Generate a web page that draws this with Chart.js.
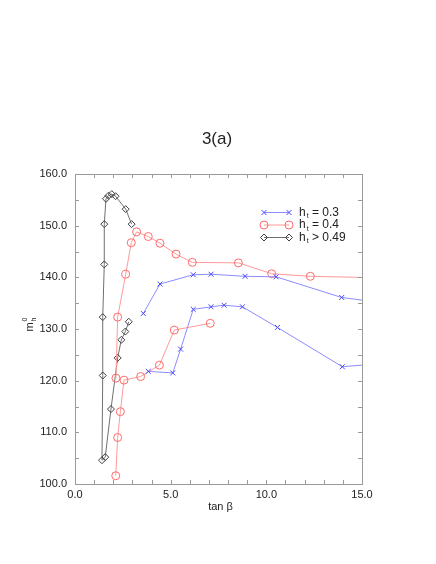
<!DOCTYPE html>
<html>
<head>
<meta charset="utf-8">
<script src="https://cdn.jsdelivr.net/npm/chart.js@4"></script>
<style>
  html, body { margin: 0; padding: 0; background: #fff; }
  #wrap { width: 436px; height: 564px; position: relative; }
</style>
</head>
<body>
<div id="wrap"><canvas id="fig" width="436" height="564"></canvas></div>
<script>
// ---- data ----
const blueUpX  = [3.57, 4.44, 6.18, 7.11, 8.89, 10.51, 13.94, 16.0];
const blueUpY  = [133.0, 138.7, 140.5, 140.6, 140.2, 140.1, 136.1, 135.1];
const blueLowX = [3.83, 5.11, 5.52, 6.18, 7.11, 7.79, 8.75, 10.58, 13.97, 16.0];
const blueLowY = [121.8, 121.5, 126.1, 133.8, 134.3, 134.6, 134.3, 130.3, 122.7, 123.3];

const redUpX  = [2.14, 2.23, 2.65, 2.94, 3.22, 3.83, 4.44, 5.28, 6.13, 8.54, 10.28, 12.3, 16.0];
const redUpY  = [120.5, 132.3, 140.6, 146.7, 148.8, 147.9, 146.6, 144.5, 142.9, 142.8, 140.7, 140.2, 139.9];
const redLowX = [2.13, 2.23, 2.37, 2.56, 3.43, 4.41, 5.19, 7.07];
const redLowY = [101.6, 109.0, 114.0, 120.1, 120.8, 123.0, 129.8, 131.1];

const blackX = [2.81, 2.63, 2.42, 2.23, 1.88, 1.58, 1.41, 1.45, 1.45, 1.53, 1.53, 1.62, 1.75, 1.92, 2.12, 2.65, 2.96];
const blackY = [131.4, 129.5, 127.9, 124.4, 114.5, 105.2, 104.6, 121.0, 132.3, 142.5, 150.3, 155.2, 155.8, 156.1, 155.7, 153.2, 150.3];

const xTicks = [0, 5, 10, 15];
const yTicks = [100, 110, 120, 130, 140, 150, 160];
const legendLabels = [['h', 't', ' = 0.3'], ['h', 't', ' = 0.4'], ['h', 't', ' > 0.49']];

const BLUE = '#4848ff', BLUE_LINE = '#8c8cff';
const RED = '#ff6a6a', RED_LINE = '#ff9a9a';
const BLACK = '#404040', BLACK_LINE = '#707070';
const AXIS = '#9a9a9a';
const FONT = '"Liberation Sans", Arial, sans-serif';

function pts(xs, ys) { return xs.map((x, i) => ({ x: x, y: ys[i] })); }

function series(xs, ys, style, color, line, radius) {
    return {
        data: pts(xs, ys),
        showLine: true,
        borderColor: line,
        borderWidth: 1,
        pointStyle: style,
        pointRadius: radius,
        pointBorderColor: color,
        pointBackgroundColor: 'rgba(0,0,0,0)',
        pointBorderWidth: 1,
        clip: 0,
        tension: 0
    };
}

const datasets = [
    series(blueUpX, blueUpY, 'crossRot', BLUE, BLUE_LINE, 3.5),
    series(blueLowX, blueLowY, 'crossRot', BLUE, BLUE_LINE, 3.5),
    series(redUpX, redUpY, 'circle', RED, RED_LINE, 4),
    series(redLowX, redLowY, 'circle', RED, RED_LINE, 4),
    series(blackX, blackY, 'rectRot', BLACK, BLACK_LINE, 3.5)
];

// ticks, frame, title, axis labels, legend
const decor = {
    id: 'decor',
    afterDraw(chart) {
        const ctx = chart.ctx;
        const a = chart.chartArea;
        const xs = chart.scales.x, ys = chart.scales.y;
        ctx.save();
        ctx.strokeStyle = AXIS;
        ctx.lineWidth = 1;
        ctx.strokeRect(a.left + 0.5, a.top + 0.5, a.right - a.left, a.bottom - a.top);

        ctx.beginPath();
        for (let v = 0; v <= 15; v++) {
            const px = Math.round(xs.getPixelForValue(v)) + 0.5;
            ctx.moveTo(px, a.bottom); ctx.lineTo(px, a.bottom - 4);
            ctx.moveTo(px, a.top); ctx.lineTo(px, a.top + 4);
        }
        for (let v = 100; v <= 160; v += 5) {
            const py = Math.round(ys.getPixelForValue(v)) + 0.5;
            ctx.moveTo(a.left, py); ctx.lineTo(a.left + 4, py);
            ctx.moveTo(a.right, py); ctx.lineTo(a.right - 4, py);
        }
        ctx.stroke();

        ctx.fillStyle = '#222';
        ctx.textAlign = 'center';
        ctx.textBaseline = 'middle';
        ctx.font = '17px ' + FONT;
        ctx.fillText('3(a)', 217, 139);

        ctx.font = '11px ' + FONT;
        ctx.fillText('tan \u03b2', (a.left + a.right) / 2 + 2, 507);

        // y label: m with sub h and sup 0, rotated
        ctx.save();
        ctx.translate(30, (a.top + a.bottom) / 2 - 4);
        ctx.rotate(-Math.PI / 2);
        ctx.textAlign = 'left';
        ctx.font = '11px ' + FONT;
        const mw = ctx.measureText('m').width;
        ctx.fillText('m', -mw / 2 - 2, 0);
        ctx.font = '7px ' + FONT;
        ctx.fillText('h', mw / 2 - 1, 4);
        ctx.fillText('0', mw / 2 - 1, -5);
        ctx.restore();

        // legend
        [0, 2, 4].forEach((di, i) => {
            const ds = chart.data.datasets[di];
            const y = 212.5 + i * 12.5;
            const x0 = 264, x1 = 289;
            ctx.strokeStyle = ds.borderColor;
            ctx.lineWidth = 1;
            ctx.beginPath();
            ctx.moveTo(x0, y); ctx.lineTo(x1, y);
            ctx.stroke();
            ctx.strokeStyle = ds.pointBorderColor;
            ctx.fillStyle = 'rgba(0,0,0,0)';
            [x0, x1].forEach(x => {
                Chart.helpers.drawPoint(ctx, {
                    pointStyle: ds.pointStyle,
                    radius: ds.pointRadius,
                    borderWidth: 1,
                    rotation: 0
                }, x, y);
            });
            const lab = legendLabels[i];
            ctx.fillStyle = '#222';
            ctx.textAlign = 'left';
            ctx.textBaseline = 'middle';
            ctx.font = '12px ' + FONT;
            let tx = 299;
            ctx.fillText(lab[0], tx, y);
            tx += ctx.measureText(lab[0]).width;
            ctx.font = '7px ' + FONT;
            ctx.fillText(lab[1], tx + 1, y + 4);
            tx += ctx.measureText(lab[1]).width + 1;
            ctx.font = '12px ' + FONT;
            ctx.fillText(lab[2], tx, y);
        });
        ctx.restore();
    }
};

new Chart(document.getElementById('fig'), {
    type: 'scatter',
    data: { datasets: datasets },
    options: {
        responsive: false,
        animation: false,
        devicePixelRatio: 1,
        layout: { padding: { top: 174, right: 74, left: 0, bottom: 0 } },
        plugins: { legend: { display: false }, title: { display: false }, tooltip: { enabled: false } },
        scales: {
            x: {
                type: 'linear', min: 0, max: 15,
                afterFit(s) { s.height = 80; },
                afterBuildTicks(s) { s.ticks = xTicks.map(v => ({ value: v })); },
                grid: { display: false, drawTicks: false },
                border: { display: false },
                ticks: {
                    padding: 4, color: '#222', font: { family: FONT, size: 11 },
                    maxRotation: 0, autoSkip: false,
                    callback: v => v.toFixed(1)
                }
            },
            y: {
                type: 'linear', min: 100, max: 160,
                afterFit(s) { s.width = 75; },
                afterBuildTicks(s) { s.ticks = yTicks.map(v => ({ value: v })); },
                grid: { display: false, drawTicks: false },
                border: { display: false },
                ticks: {
                    padding: 8, color: '#222', font: { family: FONT, size: 11 },
                    autoSkip: false,
                    callback: v => v.toFixed(1)
                }
            }
        }
    },
    plugins: [decor]
});
</script>
</body>
</html>
